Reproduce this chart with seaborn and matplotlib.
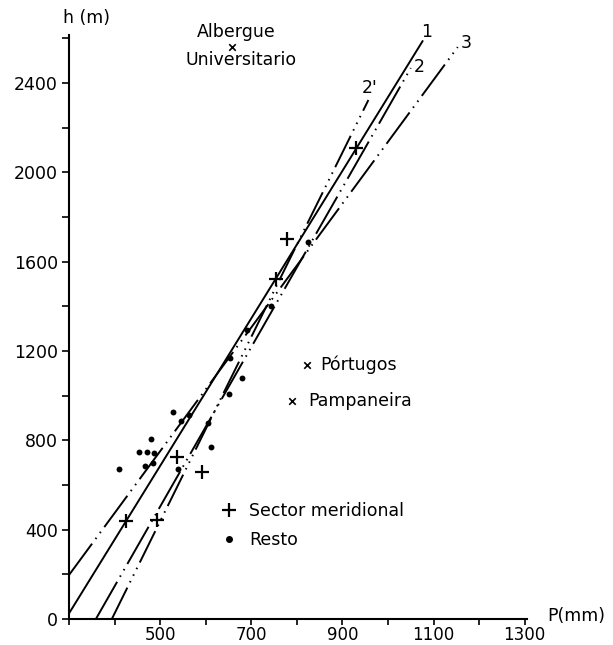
import matplotlib
matplotlib.use("Agg")
import matplotlib.pyplot as plt
import seaborn as sns
import pandas as pd
from matplotlib.lines import Line2D

# ---------------- data ----------------
sector_P = [424, 494, 536, 592, 754, 778, 930]
sector_h = [439, 443, 725, 658, 1523, 1702, 2109]

resto_P = [409, 453, 471, 487, 479, 467, 485, 528, 546, 539, 563, 605, 612,
           650, 679, 653, 690, 744, 824]
resto_h = [672, 749, 749, 745, 805, 685, 700, 928, 888, 673, 915, 877, 772,
           1008, 1081, 1170, 1294, 1402, 1687]

station_names = ["Albergue\nUniversitario", "Pórtugos", "Pampaneira"]
station_P = [658, 822, 789]
station_h = [2561, 1137, 976]

line_names = ["1", "2", "2'", "3"]
line_P = {"1": [300, 1076], "2": [359, 1050], "2'": [394, 957], "3": [300, 1153]}
line_h = {"1": [25, 2588], "2": [0, 2467], "2'": [0, 2324], "3": [197, 2561]}

x_ticks = list(range(300, 1301, 100))
x_labels = ["", "", "500", "", "700", "", "900", "", "1100", "", "1300"]
y_ticks = list(range(0, 2601, 200))
y_labels = ["0", "", "400", "", "800", "", "1200", "", "1600", "", "2000", "", "2400", ""]

# ---------------- style ----------------
sns.set_style("ticks")
plt.rcParams["font.family"] = ["DejaVu Sans"]
plt.rcParams["text.color"] = "black"
plt.rcParams["axes.labelcolor"] = "black"
FS = 12.5

fig = plt.figure(figsize=(6.13, 6.45), dpi=100)
W, H = 613, 645
ax = fig.add_axes([69 / W, 26 / H, (527 - 69) / W, (619 - 35) / H])

dash_styles = {
    "1": "-",
    "2": (0, (22, 3, 0.8, 3, 0.8, 3)),
    "2'": (0, (18, 3, 0.8, 3, 0.8, 3, 0.8, 3)),
    "3": (0, (20, 3, 0.8, 3, 0.8, 3)),
}
for name in line_names:
    df = pd.DataFrame({"P": line_P[name], "h": line_h[name]})
    sns.lineplot(data=df, x="P", y="h", ax=ax, color="black", lw=1.4,
                 linestyle=dash_styles[name], sort=False, estimator=None)

sns.scatterplot(x=sector_P, y=sector_h, ax=ax, marker="+", s=110,
                color="black", linewidth=1.6, zorder=5)
sns.scatterplot(x=resto_P, y=resto_h, ax=ax, marker="o", s=18,
                color="black", edgecolor="black", linewidth=0, zorder=5)
sns.scatterplot(x=station_P, y=station_h, ax=ax, marker="x", s=22,
                color="black", linewidth=1.2, zorder=5)

# station texts
ax.text(667, 2629, "Albergue", ha="center", va="center", fontsize=FS)
ax.text(678, 2503, "Universitario", ha="center", va="center", fontsize=FS)
ax.text(852, 1137, "Pórtugos", ha="left", va="center", fontsize=FS)
ax.text(824, 976, "Pampaneira", ha="left", va="center", fontsize=FS)

# line labels
ax.text(1085, 2629, "1", ha="center", va="center", fontsize=FS)
ax.text(1068, 2472, "2", ha="center", va="center", fontsize=FS)
ax.text(959, 2378, "2'", ha="center", va="center", fontsize=FS)
ax.text(1172, 2580, "3", ha="center", va="center", fontsize=FS)

# axis labels
ax.text(339, 2691, "h (m)", ha="center", va="center", fontsize=FS, clip_on=False)
ax.text(1350, 12, "P(mm)", ha="left", va="center", fontsize=FS, clip_on=False)

# legend
handles = [
    Line2D([], [], marker="+", color="black", linestyle="none",
           markersize=10, markeredgewidth=1.6),
    Line2D([], [], marker="o", color="black", linestyle="none", markersize=4),
]
ax.legend(handles, ["Sector meridional", "Resto"], loc="upper left",
          bbox_to_anchor=(0.333, 0.2), frameon=False, fontsize=FS,
          handlelength=0.9, handletextpad=0.7, labelspacing=0.62,
          borderpad=0, borderaxespad=0)

ax.set_xlim(300, 1305)
ax.set_ylim(0, 2615)
ax.set_xticks(x_ticks)
ax.set_xticklabels(x_labels)
ax.set_yticks(y_ticks)
ax.set_yticklabels(y_labels)
ax.set_xlabel("")
ax.set_ylabel("")
ax.tick_params(axis="both", direction="out", length=5, width=1.2,
               labelsize=FS, pad=3, colors="black")
ax.tick_params(axis="x", length=4, pad=1, labelsize=12)
for side in ["top", "right"]:
    ax.spines[side].set_visible(False)
for side in ["left", "bottom"]:
    ax.spines[side].set_linewidth(1.5)
    ax.spines[side].set_color("black")

fig.savefig("out.png", dpi=100)
